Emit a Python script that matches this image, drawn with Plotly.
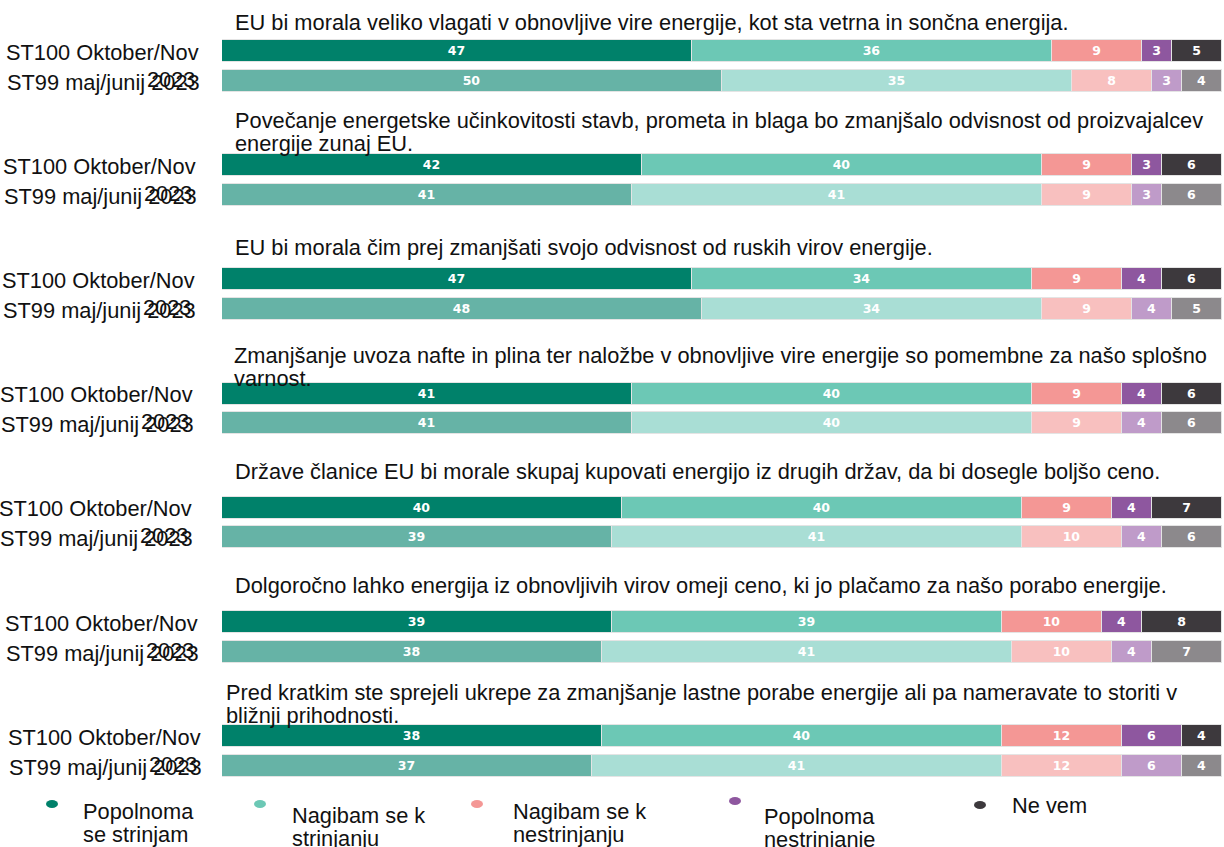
import plotly.graph_objects as go

# ---------------- data ----------------
questions = [
    "EU bi morala veliko vlagati v obnovljive vire energije, kot sta vetrna in sončna energija.",
    "Povečanje energetske učinkovitosti stavb, prometa in blaga bo zmanjšalo odvisnost od proizvajalcev<br>energije zunaj EU.",
    "EU bi morala čim prej zmanjšati svojo odvisnost od ruskih virov energije.",
    "Zmanjšanje uvoza nafte in plina ter naložbe v obnovljive vire energije so pomembne za našo splošno<br>varnost.",
    "Države članice EU bi morale skupaj kupovati energijo iz drugih držav, da bi dosegle boljšo ceno.",
    "Dolgoročno lahko energija iz obnovljivih virov omeji ceno, ki jo plačamo za našo porabo energije.",
    "Pred kratkim ste sprejeli ukrepe za zmanjšanje lastne porabe energije ali pa nameravate to storiti v<br>bližnji prihodnosti.",
]
wave_current = "ST100 Oktober/Nov"
wave_current_year = "2023"
wave_previous = "ST99 maj/junij 2023"

categories = [
    "Popolnoma<br>se strinjam",
    "Nagibam se k<br>strinjanju",
    "Nagibam se k<br>nestrinjanju",
    "Popolnoma<br>nestrinjanje",
    "Ne vem",
]

# values per category, one entry per question
st100_popolnoma_strinjam = [47, 42, 47, 41, 40, 39, 38]
st100_nagibam_strinjanju = [36, 40, 34, 40, 40, 39, 40]
st100_nagibam_nestrinjanju = [9, 9, 9, 9, 9, 10, 12]
st100_popolnoma_nestrinjanje = [3, 3, 4, 4, 4, 4, 6]
st100_ne_vem = [5, 6, 6, 6, 7, 8, 4]

st99_popolnoma_strinjam = [50, 41, 48, 41, 39, 38, 37]
st99_nagibam_strinjanju = [35, 41, 34, 40, 41, 41, 41]
st99_nagibam_nestrinjanju = [8, 9, 9, 9, 10, 10, 12]
st99_popolnoma_nestrinjanje = [3, 3, 4, 4, 4, 4, 6]
st99_ne_vem = [4, 6, 5, 6, 6, 7, 4]

st100 = [st100_popolnoma_strinjam, st100_nagibam_strinjanju, st100_nagibam_nestrinjanju,
         st100_popolnoma_nestrinjanje, st100_ne_vem]
st99 = [st99_popolnoma_strinjam, st99_nagibam_strinjanju, st99_nagibam_nestrinjanju,
        st99_popolnoma_nestrinjanje, st99_ne_vem]

# ---------------- style / layout ----------------
W, H = 1224, 847
LEFT = 222
PLOT_W = 1000
colors_cur = ["#00816A", "#6CC8B5", "#F49795", "#8E579F", "#3D393D"]
colors_prev = ["#66B3A6", "#A9DED5", "#F8C0BF", "#BF9BC9", "#8C898C"]

GROUP_Y0 = 51.0      # pixel centre of first bar
GROUP_STEP = 114.2
PAIR_GAP = 29.5
BAR_H = 22

title_first_line_y = [22, 120, 247, 355, 471, 585, 692]
title_x_px = [233, 233, 233, 232, 233, 233, 224]
label_right_px = [201, 198, 197, 195, 194, 200, 203]

FONT = "Liberation Sans, Arial, sans-serif"
FS = 21.8
LINE = 23.5


def xp(px):
    """pixel -> paper x"""
    return (px - LEFT) / PLOT_W


n = len(questions)
ys_cur = [GROUP_Y0 + GROUP_STEP * g for g in range(n)]
ys_prev = [y + PAIR_GAP for y in ys_cur]

fig = go.Figure()
for k in range(len(categories)):
    xs, ys, cols = [], [], []
    for g in range(n):
        xs += [st100[k][g], st99[k][g]]
        ys += [ys_cur[g], ys_prev[g]]
        cols += [colors_cur[k], colors_prev[k]]
    fig.add_trace(go.Bar(
        x=xs, y=ys, orientation="h", width=BAR_H,
        marker=dict(color=cols, line=dict(color="#e4e4e4", width=1)),
        texttemplate="%{x}", textposition="inside",
        insidetextanchor="middle", textangle=0,
        textfont=dict(color="white", size=12.5, family="DejaVu Sans", weight="bold"),
        showlegend=False, hoverinfo="skip", name=categories[k].replace("<br>", " "),
    ))

ann = []
for g in range(n):
    lines = questions[g].split("<br>")
    for i, ln in enumerate(lines):
        ann.append(dict(x=xp(title_x_px[g]), y=title_first_line_y[g] + i * LINE,
                        xref="paper", yref="y", text=ln, showarrow=False,
                        xanchor="left", yanchor="middle",
                        font=dict(family=FONT, size=FS, color="#111111")))
    r = label_right_px[g]
    ann.append(dict(x=xp(r), y=ys_cur[g] + 1, xref="paper", yref="y", text=wave_current,
                    showarrow=False, xanchor="right", yanchor="middle",
                    font=dict(family=FONT, size=FS, color="#111111")))
    ann.append(dict(x=xp(r + 1), y=ys_prev[g] + 1.5, xref="paper", yref="y", text=wave_previous,
                    showarrow=False, xanchor="right", yanchor="middle",
                    font=dict(family=FONT, size=FS, color="#111111")))
    ann.append(dict(x=xp(r - 3), y=ys_prev[g] - 1.5, xref="paper", yref="y", text=wave_current_year,
                    showarrow=False, xanchor="right", yanchor="middle",
                    font=dict(family=FONT, size=FS, color="#111111")))

# legend (custom, positioned like the reference)
leg_dot_px = [(52, 804), (260, 804), (477, 804), (735, 801), (980, 805)]
leg_text_px = [(81, 811), (290, 815), (511, 811), (762, 816), (1010, 805)]
shapes = []
for k in range(len(categories)):
    dx, dy = leg_dot_px[k]
    shapes.append(dict(type="circle", xref="paper", yref="y",
                       x0=xp(dx - 6), x1=xp(dx + 6), y0=dy - 4, y1=dy + 4,
                       fillcolor=colors_cur[k], line=dict(width=0)))
    tx, ty = leg_text_px[k]
    for i, ln in enumerate(categories[k].split("<br>")):
        ann.append(dict(x=xp(tx), y=ty + i * LINE, xref="paper", yref="y", text=ln,
                        showarrow=False, xanchor="left", yanchor="middle",
                        font=dict(family=FONT, size=FS, color="#111111")))

fig.update_layout(
    width=W, height=H, autosize=False,
    margin=dict(l=LEFT, r=W - LEFT - PLOT_W, t=0, b=0, pad=0),
    barmode="stack", bargap=0,
    plot_bgcolor="white", paper_bgcolor="white",
    xaxis=dict(range=[0, 100], visible=False, fixedrange=True),
    yaxis=dict(range=[H, 0], visible=False, fixedrange=True),
    annotations=ann, shapes=shapes,
    uniformtext=dict(minsize=8, mode="show"),
)

fig.write_html(
    "out.html",
    config={"displayModeBar": False},
    post_script="document.body.style.margin='0';document.body.style.padding='0';"
                "document.body.style.overflow='hidden';",
)
